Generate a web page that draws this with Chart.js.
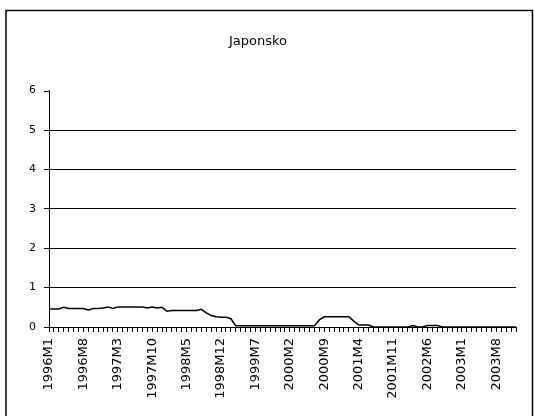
<!DOCTYPE html>
<html>
<head>
<meta charset="utf-8">
<title>Japonsko</title>
<script src="https://cdn.jsdelivr.net/npm/chart.js@4.4.1/dist/chart.umd.min.js"></script>
<style>
  body { margin: 0; background: #fff; }
  #wrap { width: 534px; height: 416px; }
</style>
</head>
<body>
<div id="wrap"><canvas id="japonsko"></canvas></div>
<script>
// monthly series 1996M1 .. 2003M12
const years = [1996, 1997, 1998, 1999, 2000, 2001, 2002, 2003];
const labels = [];
years.forEach(function (y) {
    for (let m = 1; m <= 12; m++) labels.push(y + 'M' + m);
});

const values = [
    // 1996
    0.46, 0.46, 0.46, 0.50, 0.47, 0.47, 0.47, 0.47, 0.43, 0.47, 0.47, 0.48,
    // 1997
    0.51, 0.47, 0.51, 0.51, 0.51, 0.51, 0.51, 0.51, 0.48, 0.51, 0.48, 0.50,
    // 1998
    0.40, 0.42, 0.42, 0.42, 0.42, 0.42, 0.42, 0.45, 0.36, 0.29, 0.26, 0.25,
    // 1999
    0.25, 0.21, 0.03, 0.03, 0.03, 0.03, 0.03, 0.03, 0.03, 0.03, 0.03, 0.03,
    // 2000
    0.03, 0.03, 0.03, 0.03, 0.03, 0.03, 0.03, 0.18, 0.26, 0.26, 0.26, 0.26,
    // 2001
    0.26, 0.26, 0.15, 0.05, 0.05, 0.05, 0, 0, 0, 0, 0, 0,
    // 2002
    0, 0, 0.04, 0, 0, 0.04, 0.04, 0.04, 0, 0, 0, 0,
    // 2003
    0, 0, 0, 0, 0, 0, 0, 0, 0, 0, 0, 0
];

const yMin = 0;
const yMax = 6;
const labelEvery = 7;

// outer frame + the tick at the top of the value axis
const frame = {
    id: 'frame',
    beforeDraw(chart) {
        const ctx = chart.ctx;
        ctx.save();
        ctx.fillStyle = '#fff';
        ctx.fillRect(0, 0, chart.width, chart.height);
        ctx.strokeStyle = '#000';
        ctx.lineWidth = 1.5;
        ctx.beginPath();
        ctx.moveTo(6, chart.height);
        ctx.lineTo(6, 10.5);
        ctx.lineTo(532.5, 10.5);
        ctx.lineTo(532.5, chart.height);
        ctx.stroke();
        ctx.restore();
    },
    afterDraw(chart) {
        const y = chart.scales.y;
        const py = Math.round(y.getPixelForValue(yMax)) + 0.5;
        const ctx = chart.ctx;
        ctx.save();
        ctx.strokeStyle = '#000';
        ctx.lineWidth = 1;
        ctx.beginPath();
        ctx.moveTo(y.right - 5, py);
        ctx.lineTo(y.right, py);
        ctx.stroke();
        ctx.restore();
    }
};

const ctx = document.getElementById('japonsko').getContext('2d');
const chart = new Chart(ctx, {
    type: 'line',
    data: {
        labels: labels,
        datasets: [{
            data: values,
            borderColor: '#000',
            borderWidth: 1.5,
            pointRadius: 0,
            tension: 0,
            fill: false
        }]
    },
    options: {
        responsive: true,
        maintainAspectRatio: false,
        animation: false,
        layout: {
            padding: { left: 0, top: 0, right: 18, bottom: 0 }
        },
        plugins: {
            legend: { display: false },
            tooltip: { enabled: false },
            title: {
                display: true,
                text: 'Japonsko',
                color: '#000',
                font: { family: 'DejaVu Sans', size: 13, weight: 'normal', lineHeight: 1.2 },
                padding: { top: 34, bottom: 41 }
            }
        },
        scales: {
            x: {
                offset: false,
                afterFit(s) {
                    s.height = 89;
                    // rotated labels would otherwise pull the right edge in
                    s.paddingLeft = 0;
                    s.paddingRight = 0;
                },
                border: { color: '#000', width: 1 },
                grid: {
                    display: true,
                    drawOnChartArea: false,
                    drawTicks: true,
                    tickLength: 5,
                    color: '#000'
                },
                ticks: {
                    autoSkip: false,
                    maxRotation: 90,
                    minRotation: 90,
                    padding: 6,
                    color: '#000',
                    font: { family: 'DejaVu Sans', size: 13 },
                    callback: function (v, i) {
                        return i % labelEvery === 0 ? labels[i] : '';
                    }
                }
            },
            y: {
                min: yMin,
                max: yMax,
                afterFit(s) { s.width = 49; },
                border: { color: '#000', width: 1 },
                grid: {
                    tickLength: 5,
                    color: function (c) {
                        return c.tick && c.tick.value === yMax ? 'rgba(0,0,0,0)' : '#000';
                    }
                },
                ticks: {
                    stepSize: 1,
                    padding: 8,
                    color: '#000',
                    font: { family: 'DejaVu Sans', size: 11 }
                }
            }
        }
    },
    plugins: [frame]
});
</script>
</body>
</html>
